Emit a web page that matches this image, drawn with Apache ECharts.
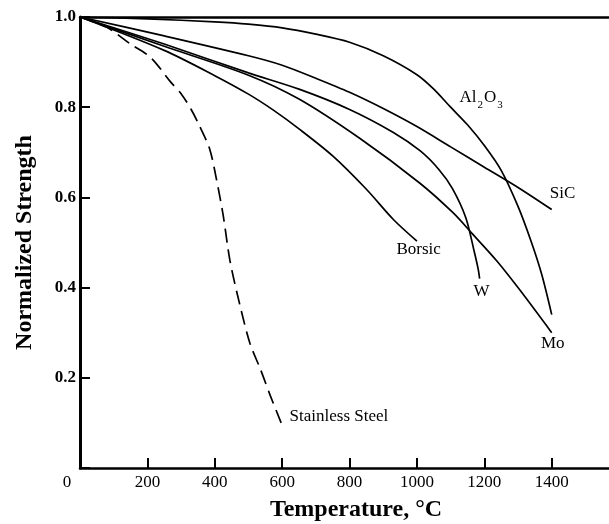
<!DOCTYPE html>
<html>
<head>
<meta charset="utf-8">
<script src="https://cdn.jsdelivr.net/npm/echarts@6/dist/echarts.min.js"></script>
<style>
  html, body { margin: 0; padding: 0; background: #fff; }
  #chart { width: 609px; height: 524px; }
</style>
</head>
<body>
<div id="chart"></div>
<script>
// 各材料强度随温度变化 [温度 °C, 归一化强度]
const al2o3 = [[0, 1.0], [200, 0.996], [400, 0.989], [500, 0.984], [600, 0.976], [700, 0.962], [800, 0.944], [900, 0.914], [1000, 0.872], [1050, 0.84], [1100, 0.80], [1150, 0.761], [1200, 0.715], [1250, 0.66], [1300, 0.58], [1340, 0.50], [1370, 0.43], [1400, 0.34]]
const sic = [[0, 1.0], [250, 0.958], [500, 0.914], [600, 0.893], [700, 0.864], [800, 0.833], [900, 0.797], [1000, 0.757], [1100, 0.712], [1200, 0.667], [1300, 0.622], [1400, 0.573]]
const w = [[0, 1.0], [250, 0.94], [500, 0.876], [650, 0.84], [800, 0.795], [930, 0.744], [1010, 0.703], [1065, 0.662], [1105, 0.62], [1145, 0.555], [1170, 0.48], [1182, 0.44], [1186, 0.42]]
const mo = [[0, 1.0], [250, 0.935], [500, 0.871], [650, 0.818], [830, 0.731], [1008, 0.632], [1107, 0.566], [1166, 0.518], [1236, 0.46], [1305, 0.395], [1400, 0.30]]
const borsic = [[0, 1.0], [250, 0.926], [400, 0.87], [500, 0.829], [575, 0.793], [650, 0.752], [750, 0.692], [850, 0.618], [930, 0.551], [1000, 0.503]]
const steel = [[0, 1.0], [80, 0.977], [150, 0.94], [210, 0.91], [270, 0.855], [300, 0.83], [330, 0.795], [355, 0.758], [385, 0.707], [405, 0.64], [425, 0.56], [445, 0.46], [475, 0.36], [505, 0.275], [535, 0.22], [565, 0.16], [597, 0.10]]

// 曲线标注位置
const labelAt = {
  al2o3: [1192, 0.817],
  sic: [1432, 0.608],
  borsic: [1005, 0.484],
  w: [1192, 0.391],
  mo: [1403, 0.277],
  steel: [622, 0.115]
}

const serif = '"Liberation Serif", "Times New Roman", serif'

const lineSeries = (name, data, labelText, extra = {}) => ({
  name,
  type: 'line',
  data,
  smooth: 0.3,
  symbol: 'none',
  lineStyle: { color: '#000', width: 1.7, type: extra.dash || 'solid' },
  markPoint: {
    symbol: 'circle',
    symbolSize: 0,
    silent: true,
    label: {
      show: true,
      formatter: labelText,
      color: '#000',
      fontFamily: serif,
      fontSize: 17,
      align: extra.align || 'center',
      verticalAlign: 'middle',
      rich: {
        n: { fontFamily: serif, fontSize: 17, color: '#000', lineHeight: 22, verticalAlign: 'top' },
        s: { fontFamily: serif, fontSize: 11, color: '#000', lineHeight: 22, verticalAlign: 'bottom', padding: [0, 1, 0, 1] }
      }
    },
    data: [{ coord: extra.at }]
  }
})

const chartInit = () => {
  const myChart = echarts.init(document.getElementById('chart'))
  const option = {
    animation: false,
    grid: { left: 80, right: 0, top: 17, bottom: 56, containLabel: false, outerBoundsMode: 'none' },
    xAxis: [
      {
        type: 'value',
        min: 0,
        max: 1570,
        interval: 200,
        position: 'bottom',
        name: 'Temperature, °C',
        nameLocation: 'middle',
        nameGap: 30,
        nameTextStyle: { fontFamily: serif, fontSize: 24, fontWeight: 'bold', color: '#000', padding: [0, 0, 0, 23] },
        axisLine: { show: true, lineStyle: { color: '#000', width: 2.5 } },
        axisTick: { show: true, inside: true, length: 10, lineStyle: { color: '#000', width: 2 } },
        axisLabel: {
          showMaxLabel: false,
          margin: 6,
          color: '#000',
          fontFamily: serif,
          fontSize: 17,
          formatter: v => (v === 0 ? '{z|0}' : (v % 200 === 0 ? String(v) : '')),
          rich: { z: { fontFamily: serif, fontSize: 17, color: '#000', padding: [0, 26, 0, 0] } }
        },
        splitLine: { show: false }
      },
      {
        type: 'value',
        min: 0,
        max: 1570,
        position: 'top',
        axisLine: { show: true, lineStyle: { color: '#000', width: 2.5 } },
        axisTick: { show: false },
        axisLabel: { show: false },
        splitLine: { show: false }
      }
    ],
    yAxis: {
      type: 'value',
      min: 0,
      max: 1,
      interval: 0.2,
      name: 'Normalized Strength',
      nameLocation: 'middle',
      nameRotate: 90,
      nameGap: 43,
      nameTextStyle: { fontFamily: serif, fontSize: 24, fontWeight: 'bold', color: '#000' },
      axisLine: { show: true, lineStyle: { color: '#000', width: 3 } },
      axisTick: { show: true, inside: true, length: 10, lineStyle: { color: '#000', width: 2 } },
      axisLabel: {
        margin: 4,
        color: '#000',
        fontFamily: serif,
        fontSize: 17,
        fontWeight: 'bold',
        formatter: v => (v === 0 ? '' : v.toFixed(1))
      },
      splitLine: { show: false }
    },
    series: [
      lineSeries('Al2O3', al2o3, '{n|Al}{s|2}{n|O}{s|3}', { at: labelAt.al2o3 }),
      lineSeries('SiC', sic, 'SiC', { at: labelAt.sic }),
      lineSeries('W', w, 'W', { at: labelAt.w }),
      lineSeries('Mo', mo, 'Mo', { at: labelAt.mo }),
      lineSeries('Borsic', borsic, 'Borsic', { at: labelAt.borsic }),
      lineSeries('Stainless Steel', steel, 'Stainless Steel', { at: labelAt.steel, dash: [14, 7], align: 'left' })
    ]
  }
  myChart.setOption(option)
  window.addEventListener('resize', () => {
    myChart?.resize()
  })
}

chartInit()
</script>
</body>
</html>
